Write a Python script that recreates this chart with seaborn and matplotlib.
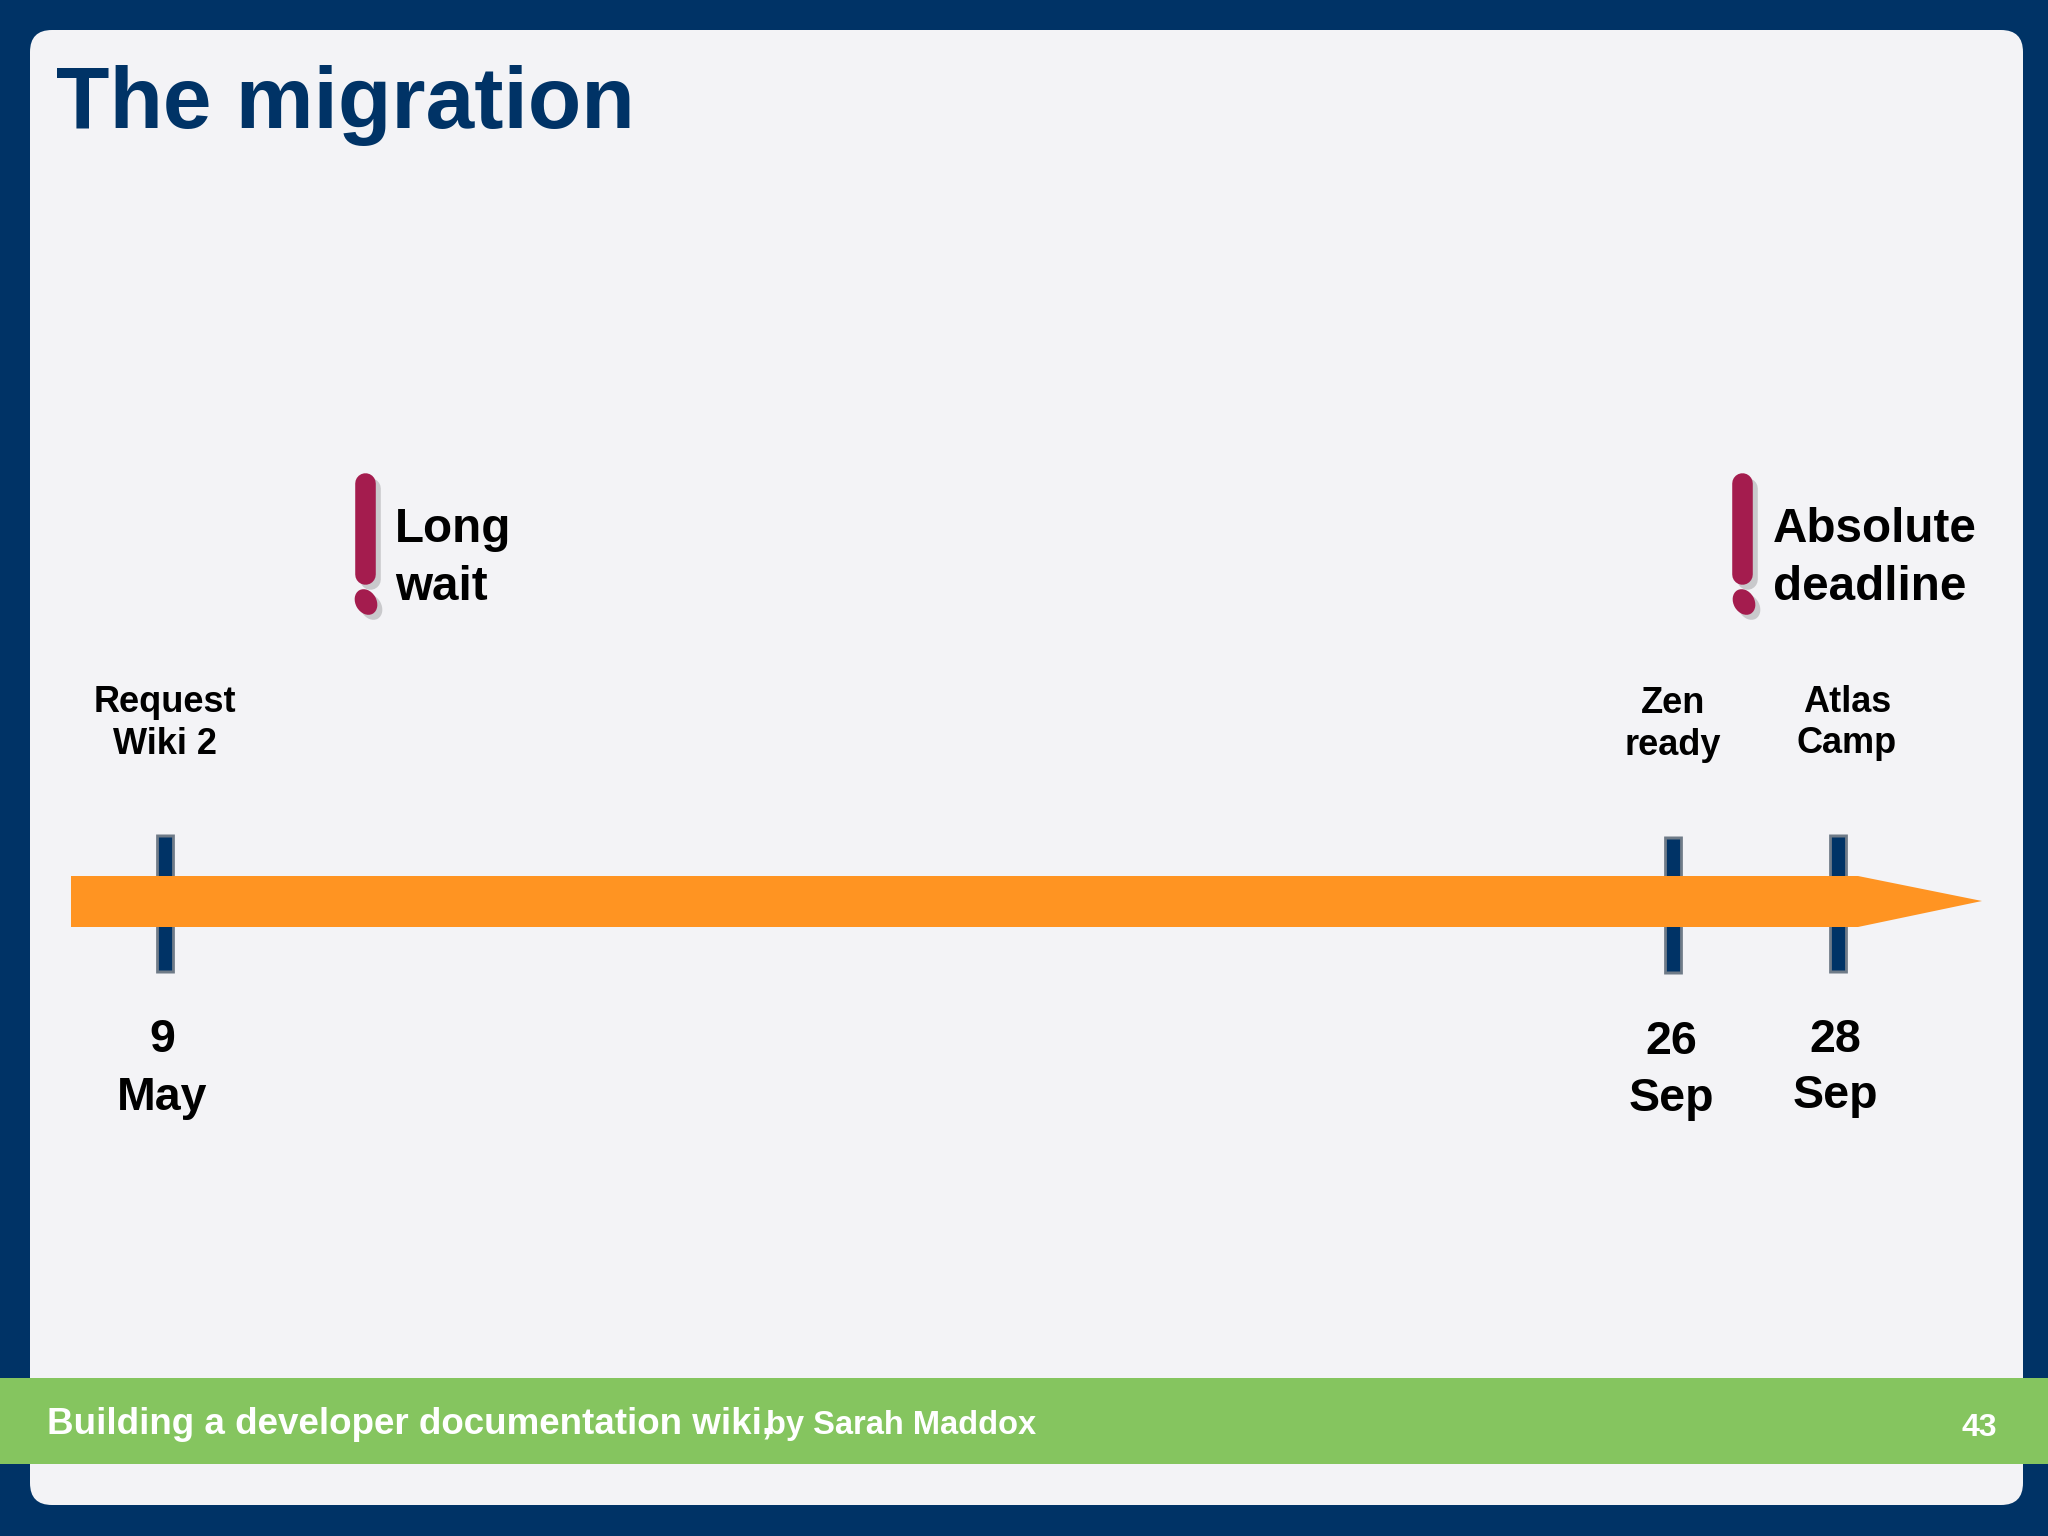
import matplotlib
matplotlib.use("Agg")
import matplotlib.pyplot as plt
from matplotlib.patches import FancyBboxPatch, Rectangle, Polygon, Ellipse
import pandas as pd
import seaborn as sns

# ---- content ----
title = "The migration"
event_top = ["Request", "Zen", "Atlas"]
event_bottom = ["Wiki 2", "ready", "Camp"]
date_day = ["9", "26", "28"]
date_month = ["May", "Sep", "Sep"]
alert_top = ["Long", "Absolute"]
alert_bottom = ["wait", "deadline"]
footer_main = "Building a developer documentation wiki,"
footer_by = "by Sarah Maddox"
page_number = "43"

# ---- layout (pixels on the 2048x1536 slide) ----
tick_x = [165, 1673, 1838]
tick_top = [834, 836, 834]
tick_bot = [973, 974, 973]
event_x = [165, 1673, 1847]
event_base = [(712, 754), (713, 755), (712, 753)]
date_x = [162, 1671, 1835]
date_base = [(1052, 1110), (1054, 1111), (1052, 1108)]
alert_bar_x = [368, 1745]
alert_dot_x = [366, 1744]
alert_text_x = [395, 1773]

NAVY = "#003366"
PANEL = "#F3F3F6"
GREEN = "#85C55F"
ORANGE = "#FF9422"
CRIMSON = "#A41C4E"
SHADOW = "#C9C9CC"

sns.set_theme(style="white")
plt.rcParams["font.family"] = ["Liberation Sans", "DejaVu Sans"]

fig = plt.figure(figsize=(20.48, 15.36), dpi=100, facecolor=NAVY)
ax = fig.add_axes([0, 0, 1, 1])
ax.set_xlim(0, 2048)
ax.set_ylim(1536, 0)
ax.axis("off")

# panel
ax.add_patch(FancyBboxPatch((52, 52), 1949, 1431,
                            boxstyle="round,pad=22,rounding_size=22",
                            fc=PANEL, ec=PANEL, lw=0, zorder=1))

# footer band
ax.add_patch(Rectangle((0, 1378), 2048, 86, fc=GREEN, ec="none", zorder=2))

# tick marks
ticks = pd.DataFrame({
    "x": tick_x + tick_x,
    "y": tick_top + tick_bot,
    "id": [0, 1, 2, 0, 1, 2],
})
for col, lw, trim in [("#6F7B88", 13.5, 0), (NAVY, 9.5, 3)]:
    d = ticks.copy()
    d["y"] = d["y"] + pd.Series([trim] * 3 + [-trim] * 3)
    sns.lineplot(data=d, x="x", y="y", units="id", estimator=None, color=col,
                 lw=lw, ax=ax, legend=False, solid_capstyle="butt", zorder=3, sort=False)

# arrow
ax.add_patch(Polygon([(71, 876), (1858, 876), (1982, 901), (1858, 927), (71, 927)],
                     closed=True, fc=ORANGE, ec="none", zorder=4))

# exclamation marks
for bx, dx in zip(alert_bar_x, alert_dot_x):
    for off, col, z in [(5, SHADOW, 5), (0, CRIMSON, 6)]:
        bar = pd.DataFrame({"x": [bx - 3 + off, bx - 3 + off], "y": [483 + off, 574 + off]})
        sns.lineplot(data=bar, x="x", y="y", estimator=None, color=col, lw=14.8,
                     ax=ax, legend=False, solid_capstyle="round", zorder=z, sort=False)
        ax.add_patch(Ellipse((dx + off, 602 + off), 21, 27, angle=-30, fc=col, ec="none", zorder=z))
ax.set_xlim(0, 2048)
ax.set_ylim(1536, 0)
ax.set_xlabel("")
ax.set_ylabel("")

tk = dict(fontweight="bold", va="baseline", zorder=8)
ax.text(56, 128, title, color=NAVY, fontsize=63, ha="left", **tk)

for x, (b1, b2), a, b in zip(event_x, event_base, event_top, event_bottom):
    ax.text(x, b1, a, color="black", fontsize=26, ha="center", **tk)
    ax.text(x, b2, b, color="black", fontsize=26, ha="center", **tk)

for x, (b1, b2), a, b in zip(date_x, date_base, date_day, date_month):
    ax.text(x, b1, a, color="black", fontsize=33.5, ha="center", **tk)
    ax.text(x, b2, b, color="black", fontsize=33.5, ha="center", **tk)

for x, a, b in zip(alert_text_x, alert_top, alert_bottom):
    ax.text(x, 542, a, color="black", fontsize=34.3, ha="left", **tk)
    ax.text(x, 600, b, color="black", fontsize=34.3, ha="left", **tk)

ax.text(47, 1434, footer_main, color="white", fontsize=26.5, ha="left", **tk)
ax.text(766, 1434, footer_by, color="white", fontsize=23.5, ha="left", **tk)
ax.text(1979, 1436, page_number, color="white", fontsize=23, ha="center", **tk)

fig.savefig("out.png", dpi=100, facecolor=NAVY)
